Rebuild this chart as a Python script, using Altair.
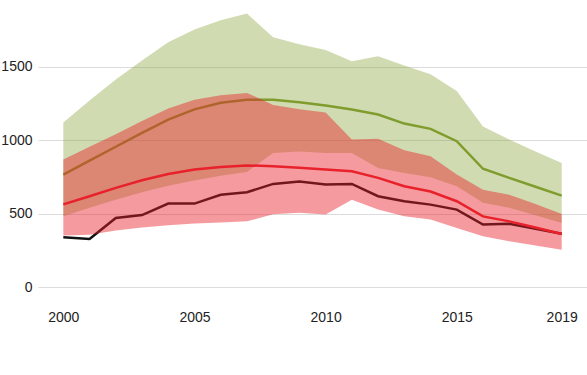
import altair as alt
import pandas as pd

years = list(range(2000, 2020))

green_upper = [1120, 1270, 1413, 1543, 1666, 1754, 1816, 1862, 1700, 1653,
               1614, 1538, 1572, 1509, 1448, 1334, 1093, 1004, 922, 845]
green_mean = [766, 860, 955, 1050, 1140, 1210, 1255, 1275, 1275, 1258,
              1236, 1209, 1175, 1113, 1077, 993, 805, 743, 683, 622]
green_lower = [481, 540, 595, 645, 690, 725, 758, 784, 913, 922,
               912, 913, 811, 777, 748, 686, 573, 539, 488, 436]

red_upper = [868, 955, 1040, 1130, 1215, 1275, 1305, 1322, 1240, 1210,
             1188, 1004, 1009, 931, 891, 766, 662, 629, 565, 497]
red_mean = [563, 618, 675, 727, 770, 800, 818, 828, 823, 812,
            800, 788, 743, 686, 650, 584, 481, 447, 405, 361]
red_lower = [350, 355, 385, 405, 420, 432, 440, 447, 495, 505,
             493, 595, 527, 481, 459, 402, 345, 311, 283, 254]

black_obs = [338, 327, 470, 490, 568, 568, 628, 645, 702, 718,
             698, 702, 618, 584, 561, 527, 425, 430, 397, 363]

x_ticks = [2000, 2005, 2010, 2015, 2019]
y_ticks = [0, 500, 1000, 1500]

df = pd.DataFrame({
    "year": years,
    "g_up": green_upper, "g_mid": green_mean, "g_lo": green_lower,
    "r_up": red_upper, "r_mid": red_mean, "r_lo": red_lower,
    "obs": black_obs,
})

GREEN = "#7f9c2c"
RED = "#e8212b"
FONT = "Liberation Sans"

xenc = alt.X("year:Q",
             scale=alt.Scale(domain=[1999.035, 2019.965], nice=False, zero=False),
             axis=alt.Axis(values=x_ticks, format="d", grid=False, domain=False,
                           ticks=False, tickSize=0, labelPadding=23, labelFlush=False,
                           labelFontSize=14, labelFont=FONT, labelColor="#222",
                           title=None))
yscale = alt.Scale(domain=[0, 1900], nice=False)
yaxis = alt.Axis(values=y_ticks, format="d", grid=True, gridColor="#dcdcdc", gridWidth=1,
                 domain=False, ticks=False, tickSize=0, labelPadding=6,
                 labelFontSize=14, labelFont=FONT, labelColor="#222", title=None)

base = alt.Chart(df).encode(x=xenc)

green_band = base.mark_area(color=GREEN, opacity=0.37).encode(
    y=alt.Y("g_lo:Q", scale=yscale, axis=yaxis), y2="g_up:Q")
green_line = base.mark_line(color=GREEN, strokeWidth=2.5).encode(
    y=alt.Y("g_mid:Q", scale=yscale))
black_line = base.mark_line(color="#111111", strokeWidth=2.5).encode(
    y=alt.Y("obs:Q", scale=yscale))
red_band = base.mark_area(color=RED, opacity=0.45).encode(
    y=alt.Y("r_lo:Q", scale=yscale), y2="r_up:Q")
red_line = base.mark_line(color=RED, strokeWidth=2.5).encode(
    y=alt.Y("r_mid:Q", scale=yscale))

chart = alt.layer(green_band, green_line, black_line, red_band, red_line).properties(
    width=549, height=279,
    autosize=alt.AutoSizeParams(type="none"),
    padding={"left": 38, "top": 8, "right": 0, "bottom": 88},
    background="white",
).configure_view(stroke=None)

chart.save("out.html", embed_options={"renderer": "svg", "actions": False})
